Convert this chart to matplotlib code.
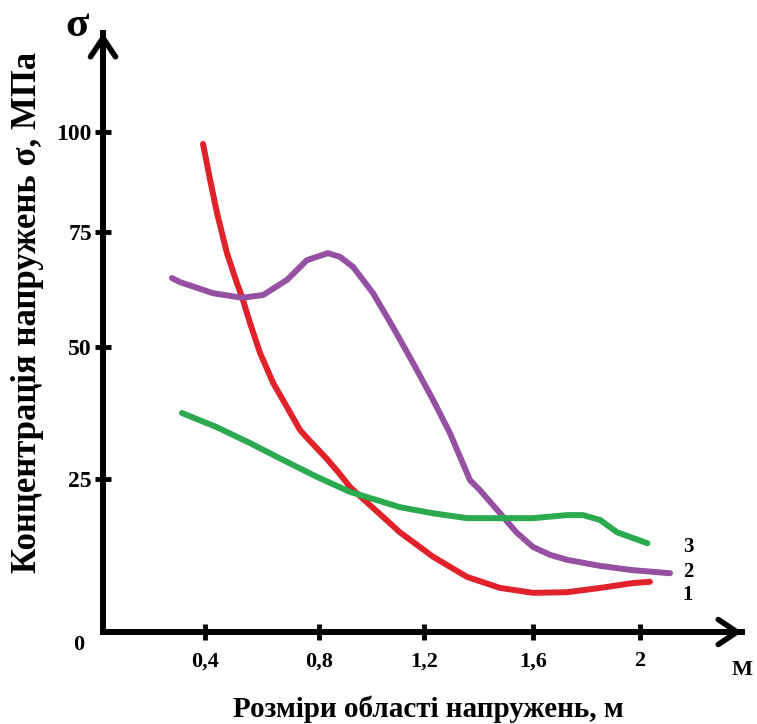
import numpy as np
import matplotlib
matplotlib.use("Agg")
import matplotlib.pyplot as plt

# ---- data -------------------------------------------------------------
# size of the stressed region, m
x_ticks = [0.4, 0.8, 1.2, 1.6, 2.0]
x_tick_labels = ["0,4", "0,8", "1,2", "1,6", "2"]
# stress concentration, MPa
y_ticks = [25, 50, 75, 100]
y_tick_labels = ["25", "50", "75", "100"]

# curve 1 (red)
c1_x = [0.393, 0.418, 0.442, 0.477, 0.512, 0.530, 0.558, 0.593, 0.639, 0.688,
        0.733, 0.758, 0.830, 0.880, 0.918, 1.108, 1.233, 1.358, 1.479, 1.600,
        1.727, 1.851, 1.974, 2.037]
c1_y = [97.0, 88.0, 79.8, 70.4, 63.9, 60.9, 55.2, 48.9, 43.2, 38.6,
        34.3, 32.8, 28.8, 25.9, 23.7, 16.3, 12.3, 9.0, 7.2, 6.4,
        6.5, 7.2, 8.0, 8.2]

# curve 2 (purple)
c2_x = [0.284, 0.312, 0.428, 0.530, 0.604, 0.688, 0.758, 0.834, 0.880, 0.930,
        1.006, 1.082, 1.158, 1.233, 1.295, 1.369, 1.405, 1.479, 1.541, 1.600,
        1.664, 1.727, 1.851, 1.974, 2.112]
c2_y = [65.0, 64.1, 61.7, 60.7, 61.3, 64.6, 68.9, 70.4, 69.6, 67.4,
        61.7, 54.3, 47.0, 40.0, 33.7, 24.8, 23.2, 19.4, 16.2, 13.9,
        12.6, 11.8, 10.8, 10.1, 9.6]

# curve 3 (green)
c3_x = [0.319, 0.442, 0.558, 0.674, 0.793, 0.918, 1.108, 1.233, 1.358, 1.479,
        1.600, 1.727, 1.787, 1.851, 1.914, 2.028]
c3_y = [37.5, 34.8, 31.8, 28.6, 25.4, 22.9, 20.4, 19.4, 18.6, 18.6,
        18.6, 19.1, 19.1, 18.3, 16.3, 14.5]

curve_names = ["1", "2", "3"]

# ---- hand-drawn axis scales (uneven graduation) -------------------------
W, H = 757, 724
sx_val = np.array([-1.0, 0.0, 0.4, 0.8, 1.2, 1.6, 2.0, 3.5])
sx_pos = np.array([-194.0, 91.0, 205.0, 319.0, 424.0, 533.0, 640.0, 1042.0])
sy_val = np.array([-50.0, 0.0, 25.0, 50.0, 75.0, 100.0, 200.0])
sy_pos = np.array([-214.0, 92.0, 245.0, 377.0, 492.0, 592.0, 992.0])


def fx(v):
    return np.interp(v, sx_val, sx_pos)


def ifx(p):
    return np.interp(p, sx_pos, sx_val)


def fy(v):
    return np.interp(v, sy_val, sy_pos)


def ify(p):
    return np.interp(p, sy_pos, sy_val)


serif = ["Liberation Serif", "DejaVu Serif"]
plt.rcParams["font.family"] = serif
plt.rcParams["font.weight"] = "bold"

fig = plt.figure(figsize=(W / 100, H / 100), dpi=100)
ax = fig.add_axes([0, 0, 1, 1])
ax.set_xscale("function", functions=(fx, ifx))
ax.set_yscale("function", functions=(fy, ify))
ax.set_xlim(float(ifx(0)), float(ifx(W)))
ax.set_ylim(float(ify(0)), float(ify(H)))
ax.patch.set_alpha(0)

x_axis_at = float(ifx(103))
x_tip = float(ifx(742))
y_tip = float(ify(H - 33))

# axes lines
for s in ["top", "right"]:
    ax.spines[s].set_visible(False)
ax.spines["left"].set_position(("data", x_axis_at))
ax.spines["bottom"].set_position(("data", 0))
ax.spines["left"].set_bounds(0, y_tip)
ax.spines["bottom"].set_bounds(x_axis_at, x_tip)
for s in ["left", "bottom"]:
    ax.spines[s].set_linewidth(4.3)
    ax.spines[s].set_color("black")

# arrow heads
arrow_kw = dict(arrowstyle="->, head_length=0.45, head_width=0.3",
                lw=4.0, color="black", shrinkA=0, shrinkB=0,
                mutation_scale=30, joinstyle="round", capstyle="round")
ax.annotate("", xy=(x_axis_at, y_tip), xytext=(x_axis_at, 60),
            arrowprops=arrow_kw, annotation_clip=False)
ax.annotate("", xy=(x_tip, 0), xytext=(1.5, 0),
            arrowprops=arrow_kw, annotation_clip=False)

# ticks
ax.set_xticks(x_ticks)
ax.set_xticklabels(x_tick_labels)
ax.set_yticks(y_ticks)
ax.set_yticklabels(y_tick_labels)
ax.minorticks_off()
ax.tick_params(axis="both", direction="inout", length=12, width=3.5,
               color="black")
ax.tick_params(axis="x", pad=8, labelsize=16)
ax.tick_params(axis="y", pad=2, labelsize=17)
for lab in ax.get_xticklabels() + ax.get_yticklabels():
    lab.set_fontweight("bold")

# curves
line_kw = dict(lw=4.3, solid_capstyle="round", solid_joinstyle="round")
ax.plot(c1_x, c1_y, color="#e1222b", **line_kw)
ax.plot(c2_x, c2_y, color="#9650a2", **line_kw)
ax.plot(c3_x, c3_y, color="#2caa50", **line_kw)

# curve numbers
ax.text(2.179, 6.0, curve_names[0], fontsize=15, fontweight="bold",
        ha="center", va="center")
ax.text(2.179, 9.8, curve_names[1], fontsize=15, fontweight="bold",
        ha="center", va="center")
ax.text(2.179, 13.9, curve_names[2], fontsize=15, fontweight="bold",
        ha="center", va="center")

# axis captions
fig.text(79 / W, 1 - 645 / H, "0", fontsize=16, fontweight="bold",
         ha="center", va="center")
fig.text(742 / W, 1 - 670 / H, "М", fontsize=16, fontweight="bold",
         ha="center", va="center")
fig.text(77 / W, 1 - 26 / H, "σ", fontsize=31, fontweight="bold",
         ha="center", va="center")
fig.text(28 / W, 1 - 312 / H, "Концентрація напружень σ, МПа",
         fontsize=25, fontweight="bold", rotation=90,
         ha="center", va="center")
fig.text(428 / W, 1 - 709 / H, "Розміри області напружень, м",
         fontsize=21, fontweight="bold", ha="center", va="center")

fig.savefig("out.png", dpi=100, facecolor="white")
